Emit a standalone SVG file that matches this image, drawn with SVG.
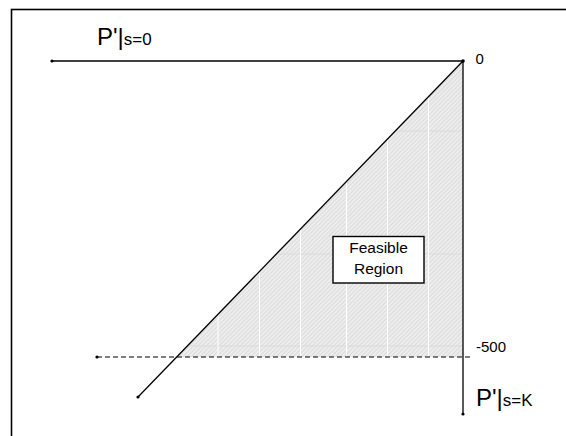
<svg xmlns="http://www.w3.org/2000/svg" width="566" height="436" viewBox="0 0 566 436">
<style>
  text { font-family: "Liberation Sans", Arial, sans-serif; fill: #000; }
  .axis { stroke: #000; stroke-width: 1.3; fill: none; }
  .dash { stroke: #000; stroke-width: 1.2; stroke-dasharray: 5 3; fill: none; }
  .dot { fill: #000; }
  .big { font-size: 24px; }
  .sub { font-size: 17px; }
  .tick { font-size: 15px; }
  .lbl { font-size: 15.5px; text-anchor: middle; }
  .vgrid { stroke: #ffffff; stroke-width: 1; }
  .hgrid { stroke: #dadada; stroke-width: 1; }
</style>
<defs>
  <pattern id="hatch" width="3" height="3" patternUnits="userSpaceOnUse" patternTransform="rotate(45)">
    <rect width="3" height="3" fill="#ededed"/>
    <line x1="0" y1="0" x2="0" y2="3" stroke="#cfcfcf" stroke-width="1.2"/>
  </pattern>
  <clipPath id="tri">
    <polygon points="463,61 463,357 177,357"/>
  </clipPath>
</defs>
<rect x="0" y="0" width="566" height="436" fill="#ffffff"/>
<rect x="11.5" y="9.5" width="620" height="500" fill="none" stroke="#000" stroke-width="1.6"/>

<g id="feasible-area">
  <polygon points="463,61 463,357 177,357" fill="url(#hatch)"/>
  <g clip-path="url(#tri)">
    <line class="hgrid" x1="150" y1="131" x2="463" y2="131"/>
    <line class="hgrid" x1="150" y1="254" x2="463" y2="254"/>
    <line class="hgrid" x1="150" y1="346" x2="463" y2="346"/>
    <line class="vgrid" x1="218" y1="60" x2="218" y2="357"/>
    <line class="vgrid" x1="259.5" y1="60" x2="259.5" y2="357"/>
    <line class="vgrid" x1="300.5" y1="60" x2="300.5" y2="357"/>
    <line class="vgrid" x1="346.5" y1="60" x2="346.5" y2="357"/>
    <line class="vgrid" x1="387.5" y1="60" x2="387.5" y2="357"/>
    <line class="vgrid" x1="428.5" y1="60" x2="428.5" y2="357"/>
  </g>
</g>

<g id="connectors">
  <line class="axis" x1="52" y1="61" x2="463" y2="61"/>
  <line class="axis" x1="463" y1="61" x2="463" y2="414"/>
  <line class="axis" x1="463" y1="61" x2="138" y2="397"/>
  <line class="dash" x1="97" y1="357" x2="473" y2="357"/>
  <circle class="dot" cx="52" cy="61" r="1.6"/>
  <circle class="dot" cx="463" cy="61" r="1.8"/>
  <circle class="dot" cx="138" cy="397" r="1.6"/>
  <circle class="dot" cx="463" cy="414" r="1.6"/>
  <circle class="dot" cx="97" cy="357" r="1.6"/>
</g>

<g id="label-s0">
  <text x="97" y="45"><tspan class="big">P'|</tspan><tspan class="sub">s=0</tspan></text>
</g>
<g id="label-sK">
  <text x="476" y="406"><tspan class="big">P'|</tspan><tspan class="sub">s=K</tspan></text>
</g>
<g id="tick-0">
  <text class="tick" x="475.5" y="64">0</text>
</g>
<g id="tick-500">
  <text class="tick" x="476" y="351.5">-500</text>
</g>
<g id="feasible-region">
  <rect x="333" y="236.5" width="91" height="46.5" fill="#ffffff" stroke="#000" stroke-width="1.4"/>
  <text class="lbl" x="378.5" y="252.5">Feasible</text>
  <text class="lbl" x="378.5" y="273.5">Region</text>
</g>
</svg>
